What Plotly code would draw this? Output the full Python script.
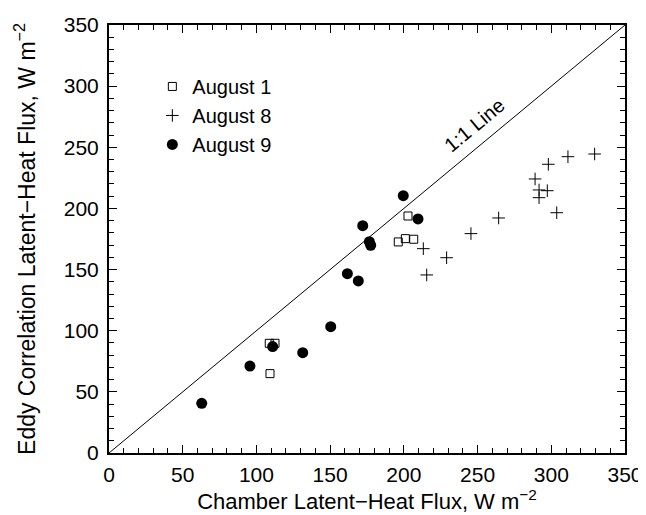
import plotly.graph_objects as go

aug1_x = [108.7, 112.6, 109.2, 196.2, 201.0, 206.7, 202.8]
aug1_y = [89.7, 89.7, 64.9, 172.6, 175.3, 174.8, 193.8]

aug8_x = [213.2, 215.5, 229.0, 245.5, 264.3, 289.0, 291.7, 297.3, 291.7, 303.7, 298.0, 311.3, 329.4]
aug8_y = [167.1, 145.6, 159.7, 179.4, 192.2, 224.1, 215.1, 214.5, 208.8, 196.5, 236.1, 242.3, 244.5]

aug9_x = [62.9, 95.6, 111.0, 131.4, 150.4, 161.7, 169.1, 172.1, 176.6, 177.5, 199.6, 209.6]
aug9_y = [40.6, 71.1, 87.0, 82.0, 103.3, 146.6, 140.7, 185.9, 172.8, 169.9, 210.4, 191.4]

one_to_one = [0, 350]
axis_range = [0, 350]
major_step = 50
minor_step = 10

FONT = "Liberation Sans, Arial, Helvetica, sans-serif"

fig = go.Figure()
fig.add_trace(go.Scatter(x=one_to_one, y=one_to_one, mode="lines",
                         line=dict(color="black", width=1), showlegend=False, hoverinfo="skip"))
fig.add_trace(go.Scatter(x=aug1_x, y=aug1_y, mode="markers", name="August 1",
                         marker=dict(symbol="square-open", size=8, color="black", line=dict(width=1, color="black"))))
fig.add_trace(go.Scatter(x=aug8_x, y=aug8_y, mode="markers", name="August 8",
                         marker=dict(symbol="cross-thin", size=9, color="black", line=dict(width=1, color="black"))))
fig.add_trace(go.Scatter(x=aug9_x, y=aug9_y, mode="markers", name="August 9",
                         marker=dict(symbol="circle", size=11, color="black")))

axis_common = dict(
    range=axis_range, tickmode="linear", tick0=0, dtick=major_step,
    ticks="inside", ticklen=8, tickwidth=1, tickcolor="black",
    showline=True, linewidth=2, linecolor="black", mirror="allticks", showgrid=False, zeroline=False,
    tickfont=dict(family=FONT, size=21, color="black"), automargin=False,
    minor=dict(tickmode="linear", tick0=0, dtick=minor_step, ticks="inside", ticklen=5,
               tickwidth=1, tickcolor="black", showgrid=False),
)

fig.update_xaxes(**axis_common, ticklabelstandoff=2,
                 title=dict(text="Chamber Latent\u2212Heat Flux, W m<sup>\u22122</sup>",
                            font=dict(family=FONT, size=22, color="black"), standoff=4))
fig.update_yaxes(**axis_common, ticklabelstandoff=4,
                 title=dict(text="Eddy Correlation Latent\u2212Heat Flux, W m<sup>\u22122</sup>",
                            font=dict(family=FONT, size=23, color="black"), standoff=22))

fig.add_annotation(x=248, y=268, xref="x", yref="y", text="1:1 Line", showarrow=False,
                   textangle=-39.7, font=dict(family=FONT, size=20, color="black"))

fig.update_layout(
    width=638, height=507,
    margin=dict(l=101, r=21, t=17, b=62),
    plot_bgcolor="white", paper_bgcolor="white",
    legend=dict(x=0.084, y=0.902, xanchor="left", yanchor="top", bgcolor="rgba(0,0,0,0)",
                font=dict(family=FONT, size=20, color="black"), itemwidth=30, tracegroupgap=0),
)

fig.write_html("out.html")
